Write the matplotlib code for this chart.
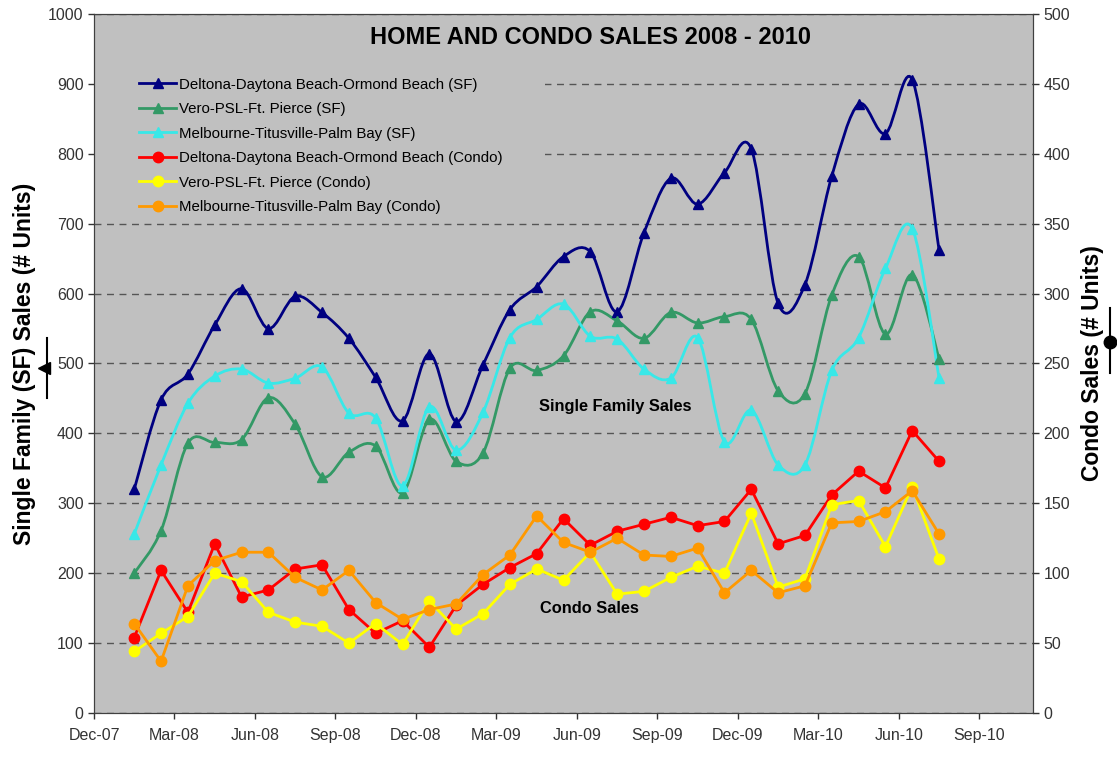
import numpy as np
import matplotlib
matplotlib.use('Agg')
import matplotlib.pyplot as plt
from matplotlib.path import Path
from matplotlib.patches import PathPatch, Rectangle
from matplotlib.lines import Line2D

plt.rcParams['font.family'] = ['Liberation Sans', 'DejaVu Sans']

# months Jan-08 .. Jul-10 (index 1 = Jan-08, 0 = Dec-07 on the axis)
months = np.arange(1, 32)
tick_labels = ['Dec-07', 'Mar-08', 'Jun-08', 'Sep-08', 'Dec-08', 'Mar-09',
               'Jun-09', 'Sep-09', 'Dec-09', 'Mar-10', 'Jun-10', 'Sep-10']

# single family sales (left axis)
deltona_sf = [320, 448, 485, 555, 607, 550, 596, 573, 536, 480, 418, 514,
              417, 498, 577, 610, 653, 660, 574, 687, 765, 728, 773, 807,
              586, 613, 768, 871, 829, 906, 662]
vero_sf = [200, 261, 386, 387, 391, 451, 413, 338, 373, 382, 315, 420,
           360, 372, 493, 490, 511, 574, 561, 536, 573, 558, 567, 563,
           461, 457, 598, 653, 542, 627, 507]
melb_sf = [256, 355, 443, 482, 492, 472, 479, 495, 429, 422, 325, 438,
           376, 430, 537, 563, 585, 539, 535, 492, 479, 537, 388, 433,
           355, 355, 490, 537, 636, 693, 479]

# condo sales (right axis)
deltona_condo = [54, 102, 72, 121, 83, 88, 103, 106, 74, 57, 66, 47,
                 77, 92, 104, 114, 139, 120, 130, 135, 140, 134, 137, 160,
                 121, 127, 156, 173, 161, 202, 180]
vero_condo = [44, 57, 69, 100, 94, 72, 65, 62, 50, 64, 49, 80,
              60, 71, 92, 103, 95, 115, 85, 87, 97, 105, 100, 143,
              90, 96, 149, 152, 119, 162, 110]
melb_condo = [64, 37, 91, 109, 115, 115, 97, 88, 102, 79, 67, 74,
              78, 99, 113, 141, 122, 115, 125, 113, 112, 118, 86, 102,
              86, 91, 136, 137, 144, 159, 128]

sf_series = [
    ('Deltona-Daytona Beach-Ormond Beach (SF)', deltona_sf, '#000080'),
    ('Vero-PSL-Ft. Pierce (SF)', vero_sf, '#339966'),
    ('Melbourne-Titusville-Palm Bay (SF)', melb_sf, '#38E8E8'),
]
condo_series = [
    ('Deltona-Daytona Beach-Ormond Beach (Condo)', deltona_condo, '#FF0000'),
    ('Vero-PSL-Ft. Pierce (Condo)', vero_condo, '#FFFF00'),
    ('Melbourne-Titusville-Palm Bay (Condo)', melb_condo, '#FF9900'),
]


def smooth_path(x, y):
    # Excel-style smoothed line as cubic bezier segments through the points
    pts = np.column_stack([x, y]).astype(float)
    n = len(pts)
    verts = [pts[0]]
    codes = [Path.MOVETO]
    for i in range(n - 1):
        p0 = pts[max(i - 1, 0)]
        p1 = pts[i]
        p2 = pts[i + 1]
        p3 = pts[min(i + 2, n - 1)]
        verts += [p1 + (p2 - p0) / 6, p2 - (p3 - p1) / 6, p2]
        codes += [Path.CURVE4] * 3
    return Path(verts, codes)


fig = plt.figure(figsize=(11.17, 7.57), dpi=100)
ax = fig.add_axes([94 / 1117, 44 / 757, 939 / 1117, 699 / 757])
ax.set_facecolor('#C0C0C0')
ax2 = ax.twinx()

x = months + 0.5
handles = []
for label, vals, color in sf_series:
    ax.add_patch(PathPatch(smooth_path(x, vals), facecolor='none',
                           edgecolor=color, lw=2, zorder=2))
    ax.plot(x, vals, ls='none', marker='^', ms=7.5, color=color, zorder=3)
    handles.append(Line2D([], [], color=color, lw=2, marker='^', ms=7.5, label=label))

for label, vals, color in condo_series:
    ax2.plot(x, vals, color=color, lw=2, marker='o', ms=7.5, zorder=3)
    handles.append(Line2D([], [], color=color, lw=2, marker='o', ms=7.5, label=label))

ax.set_xlim(0, 35)
ax.set_ylim(0, 1000)
ax2.set_ylim(0, 500)
ax.set_xticks(np.arange(0, 34, 3))
ax.set_xticklabels(tick_labels)
ax.set_yticks(np.arange(0, 1001, 100))
ax2.set_yticks(np.arange(0, 501, 50))

ax.grid(axis='y', color='#555555', ls=(0, (5, 4)), lw=1)
ax.set_axisbelow(True)

# legend area hides the gridlines behind it
ax.add_patch(Rectangle((0, 0.715), 0.48, 0.215, transform=ax.transAxes,
                       facecolor='#C0C0C0', edgecolor='none', zorder=1))

for a in (ax, ax2):
    a.tick_params(labelsize=11.5, colors='#333333', length=4, width=1)
    for s in a.spines.values():
        s.set_color('#404040')
ax.tick_params(axis='x', pad=7)

ax.set_ylabel('Single Family (SF) Sales (# Units)', fontsize=16.5,
              fontweight='bold', labelpad=9)
ax2.set_ylabel('Condo Sales (# Units)', fontsize=16.5, fontweight='bold',
               labelpad=8)

ax.text(0.529, 0.967, 'HOME AND CONDO SALES 2008 - 2010', transform=ax.transAxes,
        ha='center', va='center', fontsize=17, fontweight='bold')
ax.text(0.555, 0.438, 'Single Family Sales', transform=ax.transAxes,
        ha='center', va='center', fontsize=11.8, fontweight='bold')
ax.text(0.528, 0.149, 'Condo Sales', transform=ax.transAxes,
        ha='center', va='center', fontsize=11.8, fontweight='bold')

leg = ax2.legend(handles=handles, loc='upper left', bbox_to_anchor=(0.035, 0.926),
                 fontsize=10.8, frameon=False, handlelength=2.5, labelspacing=0.7,
                 handletextpad=0.2, borderpad=0.3)

# little series keys next to the axis titles
fig.add_artist(Line2D([47 / 1117, 47 / 1117], [1 - 338 / 757, 1 - 398 / 757],
                      color='black', lw=1.5, transform=fig.transFigure))
fig.add_artist(Line2D([44 / 1117], [1 - 368 / 757], color='black', marker='<',
                      ms=9, ls='none', transform=fig.transFigure))
fig.add_artist(Line2D([1110 / 1117, 1110 / 1117], [1 - 308 / 757, 1 - 373 / 757],
                      color='black', lw=1.5, transform=fig.transFigure))
fig.add_artist(Line2D([1110 / 1117], [1 - 342 / 757], color='black', marker='o',
                      ms=9, ls='none', transform=fig.transFigure))

fig.savefig('out.png', dpi=100)
